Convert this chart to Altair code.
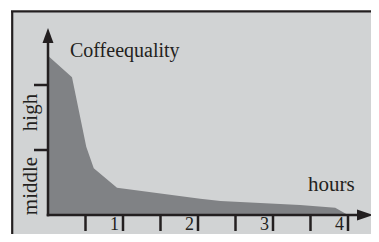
import altair as alt
import pandas as pd

# ---- data ----
hours = [0.00, 0.32, 0.51, 0.61, 0.92, 2.03, 2.30, 3.36, 3.83, 4.00]
quality = [2.45, 2.12, 1.05, 0.72, 0.42, 0.25, 0.215, 0.155, 0.11, 0.00]
x_ticks = [0.5, 1.0, 1.5, 2.0, 2.5, 3.0, 3.5, 4.0]
x_labels = ["1", "2", "3", "4"]
y_levels = ["middle", "high"]
title_text = "Coffeequality"
x_title = "hours"

W, H = 363, 226
BG = "#d1d3d4"
AREA = "#808285"
INK = "#231f20"
FONT = "Liberation Serif"

# page px = 8 + view px ; hour 0 at page x 48, 75 px/hour ; value 0 at page y 215, 65 px/unit
xs = alt.Scale(domain=[(8 - 48) / 75, (8 + W - 48) / 75], nice=False, zero=False)
ys = alt.Scale(domain=[(215 - 8 - H) / 65, (215 - 8) / 65], nice=False, zero=False)

curve = pd.DataFrame({"h": hours, "q": quality})
ticks_df = pd.DataFrame({"h": x_ticks, "y0": 0.0, "y1": -0.246})
xlab_df = pd.DataFrame({"h": [float(s) for s in x_labels], "t": x_labels, "y": -0.225})
ylab_df = pd.DataFrame({"t": y_levels, "q": [0.446, 1.577], "h": -0.153})
ytick_df = pd.DataFrame({"q": [1.0, 2.0], "h0": -0.187, "h1": 0.0})

one = alt.Data(values=[{}])

bg = alt.Chart(one).mark_rect(color=BG).encode(
    x=alt.value(4), x2=alt.value(W), y=alt.value(3), y2=alt.value(H))
border_top = alt.Chart(one).mark_rule(color=INK, strokeWidth=2.3).encode(
    x=alt.value(3), x2=alt.value(W), y=alt.value(3.3))
border_left = alt.Chart(one).mark_rule(color=INK, strokeWidth=2.2).encode(
    x=alt.value(4.2), y=alt.value(3), y2=alt.value(H))

area = alt.Chart(curve).mark_area(color=AREA, opacity=1).encode(
    x=alt.X("h:Q", scale=xs, axis=None),
    y=alt.Y("q:Q", scale=ys, axis=None),
    y2=alt.datum(0),
)

yaxis = alt.Chart(one).mark_rule(color=INK, strokeWidth=2.5).encode(
    x=alt.datum(0, scale=xs), y=alt.datum(-0.02, scale=ys), y2=alt.datum(2.7))
xaxis = alt.Chart(one).mark_rule(color=INK, strokeWidth=2.5).encode(
    x=alt.datum(-0.017, scale=xs), x2=alt.datum(4.15), y=alt.datum(0, scale=ys))

yarrow = alt.Chart(one).mark_point(
    shape="M0,-1L0.73,1L-0.73,1Z", size=225, filled=True, color=INK, opacity=1
).encode(x=alt.datum(0, scale=xs), y=alt.datum(2.762, scale=ys))
xarrow = alt.Chart(one).mark_point(
    shape="M1,0L-1,0.68L-1,-0.68Z", size=256, filled=True, color=INK, opacity=1
).encode(x=alt.datum(4.2267, scale=xs), y=alt.datum(0, scale=ys))

xt = alt.Chart(ticks_df).mark_rule(color=INK, strokeWidth=2.5).encode(
    x=alt.X("h:Q", scale=xs), y=alt.Y("y0:Q", scale=ys), y2="y1:Q")
yt = alt.Chart(ytick_df).mark_rule(color=INK, strokeWidth=2.5).encode(
    x=alt.X("h0:Q", scale=xs), x2="h1:Q", y=alt.Y("q:Q", scale=ys))

xl = alt.Chart(xlab_df).mark_text(
    font=FONT, fontSize=18, color=INK, align="right", baseline="alphabetic", dx=-4
).encode(x=alt.X("h:Q", scale=xs), y=alt.Y("y:Q", scale=ys), text="t:N")

yl = alt.Chart(ylab_df).mark_text(
    font=FONT, fontSize=21, color=INK, align="center", baseline="alphabetic", angle=270
).encode(x=alt.X("h:Q", scale=xs), y=alt.Y("q:Q", scale=ys), text="t:N")

t1 = alt.Chart(one).mark_text(
    font=FONT, fontSize=20, color=INK, align="left", baseline="alphabetic"
).encode(x=alt.datum(0.293, scale=xs), y=alt.datum(2.431, scale=ys), text=alt.value(title_text))
t2 = alt.Chart(one).mark_text(
    font=FONT, fontSize=21, color=INK, align="left", baseline="alphabetic"
).encode(x=alt.datum(3.467, scale=xs), y=alt.datum(0.369, scale=ys), text=alt.value(x_title))

chart = alt.layer(
    bg, border_top, border_left, area, xt, yt, yaxis, xaxis, yarrow, xarrow, xl, yl, t1, t2
).properties(
    width=W, height=H, padding=0, background="white",
    autosize=alt.AutoSizeParams(type="none"),
).configure_view(stroke=None)

chart.save("out.html", embed_options={"renderer": "svg", "actions": False})
